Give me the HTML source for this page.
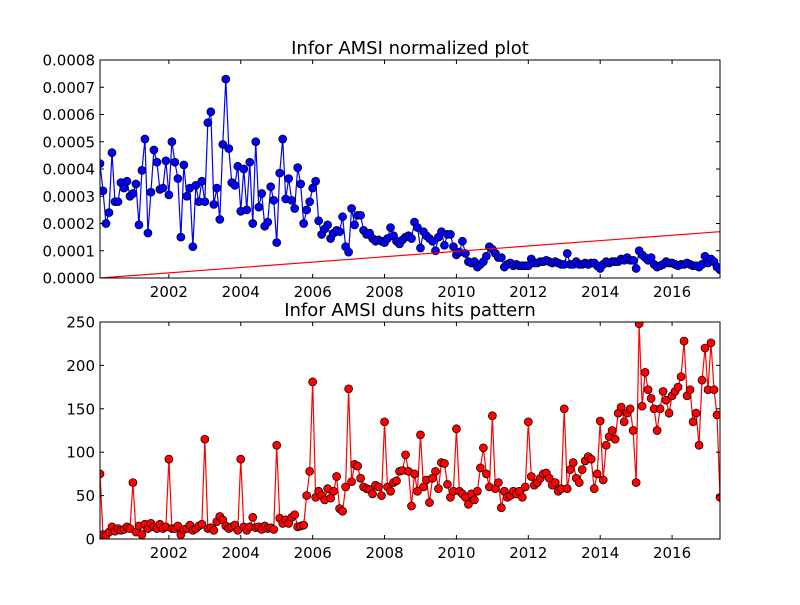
<!DOCTYPE html>
<html><head><meta charset="utf-8"><style>
body{margin:0;background:#fff;}
svg text{font-family:"DejaVu Sans","Liberation Sans",sans-serif;}
</style></head><body>
<svg id="c" width="800" height="600" xmlns="http://www.w3.org/2000/svg"></svg>
<script>
const startYear = 2000 + 1/12;
const topValues = [
4.2,3.2,2.0,2.4,4.6,2.8,2.8,3.5,3.3,3.55,3.0,
3.1,3.45,1.95,3.95,5.1,1.65,3.15,4.7,4.25,3.25,3.3,4.3,
3.05,5.0,4.25,3.65,1.5,4.15,3.0,3.3,1.15,3.4,2.8,3.55,
2.8,5.7,6.1,2.7,3.3,2.15,4.9,7.3,4.75,3.5,3.4,4.1,
2.45,4.0,2.5,4.25,2.0,5.0,2.6,3.1,1.9,2.05,3.35,2.85,
1.3,3.85,5.1,2.9,3.65,2.85,2.55,4.05,3.45,2.0,2.5,2.8,
3.3,3.55,2.1,1.6,1.8,1.95,1.45,1.65,1.75,1.7,2.25,1.15,
0.95,2.55,1.95,2.3,2.3,1.75,1.6,1.65,1.45,1.35,1.4,1.35,
1.3,1.45,1.85,1.55,1.35,1.25,1.4,1.5,1.55,1.45,2.05,1.85,
1.1,1.7,1.55,1.45,1.35,1.0,1.5,1.7,1.2,1.6,1.6,1.15,
0.85,0.95,1.35,0.9,0.6,0.55,0.6,0.4,0.5,0.6,0.8,1.15,
1.05,0.9,0.75,0.75,0.4,0.5,0.55,0.45,0.5,0.45,0.45,0.45,
0.45,0.7,0.55,0.55,0.6,0.6,0.65,0.6,0.55,0.6,0.55,0.5,
0.5,0.9,0.5,0.5,0.6,0.5,0.5,0.55,0.5,0.55,0.55,0.45,
0.35,0.5,0.6,0.55,0.6,0.6,0.6,0.7,0.65,0.75,0.65,0.65,
0.35,1.0,0.85,0.75,0.65,0.75,0.5,0.4,0.45,0.5,0.6,0.55,
0.55,0.5,0.45,0.5,0.5,0.55,0.5,0.45,0.45,0.4,0.5,0.8,
0.55,0.7,0.6,0.4,0.3];
const trendValues = [0, 1.7];
const bottomValues = [
75,5,4,8,14,9,12,10,11,14,12,
65,8,15,5,17,12,18,14,12,17,12,14,
92,12,12,15,5,11,12,16,10,12,15,17,
115,12,13,10,20,26,22,15,12,14,16,10,
92,14,10,14,25,13,14,11,15,12,13,11,
108,24,18,22,18,25,28,14,15,16,50,78,
181,48,55,50,45,58,47,55,72,35,32,60,
173,66,86,84,70,60,58,57,52,62,60,50,
135,60,55,65,67,78,79,97,78,38,75,55,
120,60,68,42,70,78,58,88,87,63,48,55,
127,55,52,48,40,52,45,55,82,105,75,60,
142,58,65,36,55,48,50,55,52,55,48,60,
135,72,62,65,70,75,76,70,62,65,55,58,
150,58,80,88,70,65,80,90,95,92,58,75,
136,68,108,118,125,115,145,152,135,145,150,125,
65,248,153,192,172,162,150,125,150,170,160,145,
165,170,175,187,228,165,172,135,145,108,183,220,
172,226,172,143,48];
const xTicks = [2002,2004,2006,2008,2010,2012,2014,2016];
const topTicks = [0,1,2,3,4,5,6,7,8];
const topTickLabels = ["0.0000","0.0001","0.0002","0.0003","0.0004","0.0005","0.0006","0.0007","0.0008"];
const bottomTicks = [0,50,100,150,200,250];

const svg = document.getElementById('c');
const NS = 'http://www.w3.org/2000/svg';
function mk(tag, attrs, parent){const e=document.createElementNS(NS,tag);for(const k in attrs)e.setAttribute(k,attrs[k]);(parent||svg).appendChild(e);return e;}
const L=100,R=720;
const xMin=startYear, xMax=startYear+(topValues.length-1)/12;
const xs=v=>L+(v-xMin)/(xMax-xMin)*(R-L);
const defs=mk('defs',{});
function panel(top,bot,ymax,vals,color,ticks,labels,title,name){
  const ys=v=>bot-v/ymax*(bot-top);
  const cp=mk('clipPath',{id:'cp-'+name},defs);
  mk('rect',{x:L,y:top,width:R-L,height:bot-top},cp);
  const g=mk('g',{});
  
  
  const inner=mk('g',{'clip-path':'url(#cp-'+name+')'},g);
  const pts=vals.map((v,i)=>[xs(startYear+i/12),ys(v)]);
  const ln=mk('polyline',{points:pts.map(p=>p.join(',')).join(' '),fill:'none',stroke:color,'stroke-width':1.2},inner);
  
  
  pts.forEach(p=>{const c=mk('circle',{cx:p[0],cy:p[1],r:4,fill:color,stroke:'#000','stroke-width':0.7},inner);
    
    });
  mk('rect',{x:L,y:top,width:R-L,height:bot-top,fill:'none',stroke:'#000','stroke-width':1},g);
  xTicks.forEach(t=>{const x=xs(t);mk('line',{x1:x,x2:x,y1:bot,y2:bot-4,stroke:'#000'},g);mk('line',{x1:x,x2:x,y1:top,y2:top+4,stroke:'#000'},g);
    const tx=mk('text',{x:x,y:bot+19,'font-size':15,'text-anchor':'middle'},g);tx.textContent=t;
    
    });
  ticks.forEach((t,i)=>{const y=ys(t);mk('line',{x1:L,x2:L+4,y1:y,y2:y,stroke:'#000'},g);mk('line',{x1:R,x2:R-4,y1:y,y2:y,stroke:'#000'},g);
    const tx=mk('text',{x:L-5,y:y+5.5,'font-size':15,'text-anchor':'end'},g);tx.textContent=labels?labels[i]:t;
    
    });
  const tt=mk('text',{x:(L+R)/2,y:top-6,'font-size':18,'text-anchor':'middle'},g);tt.textContent=title;
  
  
  return {ys,g,inner};
}
const p1=panel(60,278,8,topValues,'#0000ff',topTicks,topTickLabels,'Infor AMSI normalized plot','normalized-plot');
const tr=mk('line',{x1:xs(xMin),y1:p1.ys(trendValues[0]),x2:xs(xMax),y2:p1.ys(trendValues[1]),stroke:'#ff0000','stroke-width':1.2},p1.inner);


panel(322,539,250,bottomValues,'#ff0000',bottomTicks,null,'Infor AMSI duns hits pattern','duns-hits-plot');
</script>
</body></html>
